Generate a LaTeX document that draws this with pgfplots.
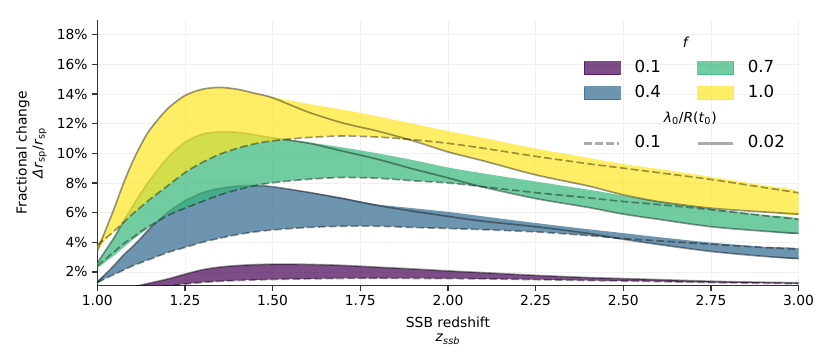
\documentclass[border=0pt]{standalone}
\usepackage{fontspec}
\setmainfont{DejaVu Sans}
\usepackage{pgfplots}
\pgfplotsset{compat=1.18}
\usepackage{pgfplotstable}

\definecolor{vir0}{HTML}{440154}
\definecolor{vir1}{HTML}{31688E}
\definecolor{vir2}{HTML}{35B779}
\definecolor{vir3}{HTML}{FDE725}

% curves: x, solid (lambda=0.02), dashed (lambda=0.1)
\pgfplotstableread{
x     S     D
1.000 0.30  0.20
1.050 0.65  0.45
1.100 0.98  0.70
1.150 1.25  0.90
1.200 1.52  1.05
1.250 1.85  1.18
1.300 2.15  1.29
1.350 2.33  1.37
1.400 2.43  1.42
1.450 2.49  1.46
1.500 2.52  1.49
1.600 2.51  1.53
1.700 2.44  1.56
1.800 2.32  1.57
1.900 2.20  1.56
2.000 2.07  1.55
2.100 1.95  1.53
2.250 1.77  1.48
2.400 1.62  1.42
2.500 1.55  1.39
2.600 1.48  1.35
2.750 1.37  1.28
2.900 1.30  1.24
3.000 1.27  1.21
}\fA
\pgfplotstableread{
x     S     D
1.000 1.30  1.30
1.025 1.90  1.58
1.050 2.50  1.85
1.075 3.15  2.12
1.100 3.70  2.40
1.125 4.30  2.63
1.150 4.95  2.85
1.200 6.00  3.30
1.250 6.80  3.65
1.300 7.35  4.00
1.350 7.65  4.28
1.400 7.80  4.52
1.450 7.83  4.70
1.500 7.75  4.83
1.600 7.38  5.00
1.700 6.95  5.08
1.800 6.48  5.08
1.900 6.10  5.00
2.000 5.75  4.93
2.100 5.42  4.85
2.250 5.05  4.70
2.400 4.60  4.45
2.500 4.20  4.25
2.600 3.85  4.10
2.750 3.38  3.87
2.900 3.05  3.65
3.000 2.90  3.53
}\fB
\pgfplotstableread{
x     S     D
1.000 2.60  2.40
1.025 3.50  2.90
1.050 4.40  3.40
1.075 5.45  3.90
1.100 6.40  4.30
1.125 7.35  4.75
1.150 8.20  5.10
1.200 9.70  5.80
1.250 10.75 6.30
1.300 11.30 6.75
1.350 11.45 7.20
1.400 11.42 7.55
1.450 11.25 7.82
1.500 11.05 8.02
1.600 10.70 8.25
1.700 10.15 8.37
1.800 9.60  8.32
1.900 8.95  8.15
2.000 8.35  8.00
2.100 7.72  7.75
2.250 6.95  7.35
2.400 6.35  7.00
2.500 5.90  6.75
2.600 5.55  6.55
2.750 5.05  6.20
2.900 4.75  5.80
3.000 4.60  5.55
}\fC
\pgfplotstableread{
x     S     D
1.000 3.40  3.80
1.025 4.90  4.30
1.050 6.40  4.80
1.075 8.00  5.35
1.100 9.40  5.90
1.125 10.60 6.40
1.150 11.60 6.90
1.200 13.00 7.80
1.250 13.90 8.70
1.300 14.33 9.40
1.350 14.45 9.95
1.400 14.32 10.35
1.450 14.05 10.65
1.500 13.75 10.85
1.600 12.80 11.07
1.700 12.05 11.17
1.800 11.50 11.10
1.900 10.85 10.92
2.000 10.10 10.68
2.100 9.50  10.35
2.250 8.55  9.80
2.400 7.80  9.30
2.500 7.20  9.00
2.600 6.75  8.70
2.750 6.30  8.24
2.900 6.05  7.70
3.000 5.90  7.34
}\fD

% band outlines: upper edge left to right, then lower edge back
\pgfplotstableread{
x y
1.000 0.30
1.050 0.65
1.100 0.98
1.150 1.25
1.200 1.52
1.250 1.85
1.300 2.15
1.350 2.33
1.400 2.43
1.450 2.49
1.500 2.52
1.600 2.51
1.700 2.44
1.800 2.32
1.900 2.20
2.000 2.07
2.100 1.95
2.250 1.77
2.400 1.62
2.500 1.55
2.600 1.48
2.750 1.37
2.900 1.30
3.000 1.27
3.000 1.21
2.900 1.24
2.750 1.28
2.600 1.35
2.500 1.39
2.400 1.42
2.250 1.48
2.100 1.53
2.000 1.55
1.900 1.56
1.800 1.57
1.700 1.56
1.600 1.53
1.500 1.49
1.450 1.46
1.400 1.42
1.350 1.37
1.300 1.29
1.250 1.18
1.200 1.05
1.150 0.90
1.100 0.70
1.050 0.45
1.000 0.20
}\bandA
\pgfplotstableread{
x y
1.000 1.40
1.025 1.90
1.050 2.50
1.075 3.15
1.100 3.70
1.125 4.30
1.150 4.95
1.200 6.00
1.250 6.80
1.300 7.35
1.350 7.65
1.400 7.80
1.450 7.83
1.500 7.75
1.600 7.40
1.700 7.00
1.800 6.55
1.900 6.30
2.000 6.05
2.100 5.75
2.250 5.30
2.400 4.88
2.500 4.62
2.600 4.35
2.750 3.98
2.900 3.70
3.000 3.58
3.000 2.90
2.900 3.05
2.750 3.38
2.600 3.85
2.500 4.20
2.400 4.45
2.250 4.70
2.100 4.85
2.000 4.93
1.900 5.00
1.800 5.08
1.700 5.08
1.600 5.00
1.500 4.83
1.450 4.70
1.400 4.52
1.350 4.28
1.300 4.00
1.250 3.65
1.200 3.30
1.150 2.85
1.125 2.63
1.100 2.40
1.075 2.12
1.050 1.85
1.025 1.58
1.000 1.20
}\bandB
\pgfplotstableread{
x y
1.000 2.60
1.025 3.50
1.050 4.40
1.075 5.45
1.100 6.40
1.125 7.35
1.150 8.20
1.200 9.70
1.250 10.75
1.300 11.30
1.350 11.45
1.400 11.42
1.450 11.25
1.500 11.05
1.600 10.75
1.700 10.40
1.800 10.00
1.900 9.55
2.000 9.05
2.100 8.65
2.250 8.10
2.400 7.55
2.500 7.15
2.600 6.75
2.750 6.27
2.900 5.85
3.000 5.58
3.000 4.60
2.900 4.75
2.750 5.05
2.600 5.55
2.500 5.90
2.400 6.35
2.250 6.95
2.100 7.72
2.000 8.00
1.900 8.15
1.800 8.32
1.700 8.37
1.600 8.25
1.500 8.02
1.450 7.82
1.400 7.55
1.350 7.20
1.300 6.75
1.250 6.30
1.200 5.80
1.150 5.05
1.125 4.60
1.100 4.15
1.075 3.65
1.050 3.15
1.025 2.70
1.000 2.25
}\bandC
\pgfplotstableread{
x y
1.000 3.80
1.025 4.90
1.050 6.40
1.075 8.00
1.100 9.40
1.125 10.60
1.150 11.60
1.200 13.00
1.250 13.90
1.300 14.33
1.350 14.45
1.400 14.32
1.450 14.05
1.500 13.80
1.600 13.35
1.700 12.95
1.800 12.50
1.900 12.00
2.000 11.50
2.100 11.05
2.250 10.33
2.400 9.70
2.500 9.28
2.600 8.95
2.750 8.42
2.900 7.85
3.000 7.40
3.000 5.90
2.900 6.05
2.750 6.30
2.600 6.75
2.500 7.20
2.400 7.80
2.250 8.55
2.100 9.50
2.000 10.10
1.900 10.85
1.800 11.10
1.700 11.17
1.600 11.07
1.500 10.85
1.450 10.65
1.400 10.35
1.350 9.95
1.300 9.40
1.250 8.70
1.200 7.80
1.150 6.90
1.125 6.40
1.100 5.90
1.075 5.35
1.050 4.75
1.025 4.20
1.000 3.40
}\bandD

\pgfplotsset{
  bandline/.style={black, draw opacity=0.4, line width=1.2pt, smooth},
  banddash/.style={bandline, dash pattern=on 5.5pt off 2.4pt},
  legswatch/.style={legend image code/.code={\draw[##1] (0in,-0.065in) rectangle (0.36in,0.065in);}},
  legstroke/.style={legend image code/.code={\draw[##1] (0in,0in) -- (0.35in,0in);}},
}

% one band: filled outline, then the two lambda curves
\newcommand{\band}[3]{%
  \addplot[fill=#3, fill opacity=0.7, draw=none, smooth, forget plot] table[x=x, y=y] {#2};
  \addplot[banddash, forget plot] table[x=x, y=D] {#1};
  \addplot[bandline, forget plot] table[x=x, y=S] {#1};
}

\begin{document}
\begin{tikzpicture}
\useasboundingbox (-0.973in,-0.773in) rectangle (7.327in,2.857in);
\begin{axis}[
  width=7.013in, height=2.657in, scale only axis,
  xmin=1, xmax=3, ymin=1.07, ymax=19,
  xtick={1,1.25,1.5,1.75,2,2.25,2.5,2.75,3},
  ytick={2,4,6,8,10,12,14,16,18},
  axis x line*=bottom, axis y line*=left,
  axis line style={black!80, line width=0.9pt},
  tick align=outside, major tick length=3.5pt,
  tick style={black!80, line width=0.9pt},
  grid=major, grid style={black!6, line width=0.6pt},
  no markers,
  /pgf/number format/assume math mode=true,
  ticklabel style={font=\fontsize{10}{12}\selectfont},
  xticklabel={\pgfmathprintnumber[fixed, fixed zerofill, precision=2]{\tick}},
  yticklabel={\pgfmathprintnumber{\tick}\%},
  xlabel={SSB redshift\\\textit{z}\textsubscript{\textit{ssb}}},
  xlabel style={at={(axis description cs:0.5,-0.118)}, anchor=north, inner sep=0pt,
    align=center, font=\fontsize{10}{10}\selectfont},
  ylabel={Fractional change\\\textit{Δr}\textsubscript{sp}/\textit{r}\textsubscript{sp}},
  ylabel style={at={(axis description cs:-0.094,0.5)}, anchor=center, align=center,
    font=\fontsize{10}{11.6}\selectfont},
  legend columns=2,
  legend style={at={(axis description cs:0.6926,0.9458)}, anchor=north west,
    draw=none, fill=none, inner sep=0pt, row sep=5.6pt,
    font=\fontsize{12}{14}\selectfont,
    nodes={inner sep=0pt, text height=9pt, text depth=3.5pt},
    /tikz/every odd column/.append style={column sep=0.137in},
    /tikz/every even column/.append style={column sep=0.356in}},
  legend cell align=left,
]
\band{\fA}{\bandA}{vir0}
\band{\fB}{\bandB}{vir1}
\band{\fC}{\bandC}{vir2}
\band{\fD}{\bandD}{vir3}

\addlegendimage{empty legend}
\addlegendentry{\makebox[0pt][l]{\hspace*{0.51in}\makebox[0pt]{\fontsize{10}{12}\selectfont\textit{f}}}}
\addlegendimage{empty legend}
\addlegendentry{}
\addlegendimage{legswatch, fill=vir0, fill opacity=0.7, draw=vir0, draw opacity=0.7, line width=0.8pt}
\addlegendentry{0.1}
\addlegendimage{legswatch, fill=vir2, fill opacity=0.7, draw=vir2, draw opacity=0.7, line width=0.8pt}
\addlegendentry{0.7}
\addlegendimage{legswatch, fill=vir1, fill opacity=0.7, draw=vir1, draw opacity=0.7, line width=0.8pt}
\addlegendentry{0.4}
\addlegendimage{legswatch, fill=vir3, fill opacity=0.7, draw=vir3, draw opacity=0.7, line width=0.8pt}
\addlegendentry{1.0}
\addlegendimage{empty legend}
\addlegendentry{\makebox[0pt][l]{\hspace*{0.55in}\makebox[0pt]{\fontsize{10}{12}\selectfont\textit{λ}\textsubscript{0}/\textit{R}(\textit{t}\textsubscript{0})}}}
\addlegendimage{empty legend}
\addlegendentry{}
\addlegendimage{legstroke, black!33, line width=1.5pt, dash pattern=on 5.5pt off 2.4pt}
\addlegendentry{0.1}
\addlegendimage{legstroke, black!33, line width=1.5pt}
\addlegendentry{0.02}
\end{axis}
\end{tikzpicture}
\end{document}
